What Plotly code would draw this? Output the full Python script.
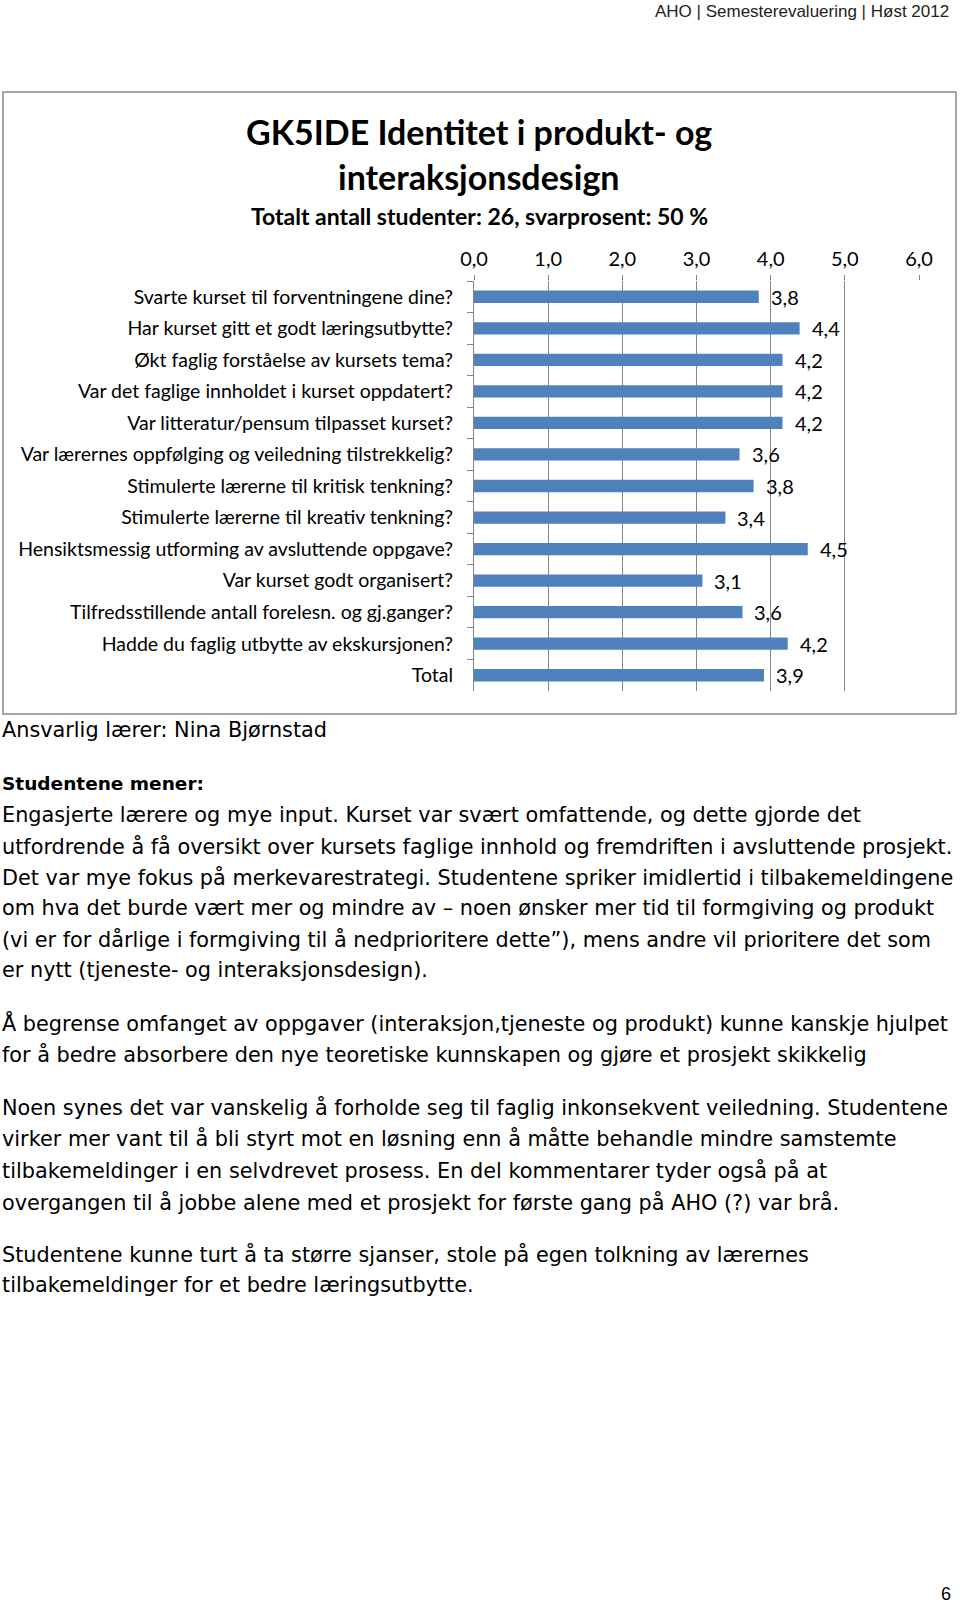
import plotly.graph_objects as go

W, H = 960, 1605

categories = [
    "Svarte kurset til forventningene dine?",
    "Har kurset gitt et godt læringsutbytte?",
    "Økt faglig forståelse av kursets tema?",
    "Var det faglige innholdet i kurset oppdatert?",
    "Var litteratur/pensum tilpasset kurset?",
    "Var lærernes oppfølging og veiledning tilstrekkelig?",
    "Stimulerte lærerne til kritisk tenkning?",
    "Stimulerte lærerne til kreativ tenkning?",
    "Hensiktsmessig utforming av avsluttende oppgave?",
    "Var kurset godt organisert?",
    "Tilfredsstillende antall forelesn. og gj.ganger?",
    "Hadde du faglig utbytte av ekskursjonen?",
    "Total",
]
values = [3.84, 4.39, 4.16, 4.16, 4.16, 3.58, 3.77, 3.39, 4.50, 3.08, 3.62, 4.23, 3.91]
x_ticks = [0, 1, 2, 3, 4, 5, 6]

header_text = "AHO | Semesterevaluering | Høst 2012"
title_lines = ["GK5IDE Identitet i produkt- og", "interaksjonsdesign"]
subtitle = "Totalt antall studenter: 26, svarprosent: 50 %"
teacher = "Ansvarlig lærer: Nina Bjørnstad"
heading = "Studentene mener:"
paragraphs = [
    [
        "Engasjerte lærere og mye input. Kurset var svært omfattende, og dette gjorde det",
        "utfordrende å få oversikt over kursets faglige innhold og fremdriften i avsluttende prosjekt.",
        "Det var mye fokus på merkevarestrategi. Studentene spriker imidlertid i tilbakemeldingene",
        "om hva det burde vært mer og mindre av – noen ønsker mer tid til formgiving og produkt",
        "(vi er for dårlige i formgiving til å nedprioritere dette”), mens andre vil prioritere det som",
        "er nytt (tjeneste- og interaksjonsdesign).",
    ],
    [
        "Å begrense omfanget av oppgaver (interaksjon,tjeneste og produkt) kunne kanskje hjulpet",
        "for å bedre absorbere den nye teoretiske kunnskapen og gjøre et prosjekt skikkelig",
    ],
    [
        "Noen synes det var vanskelig å forholde seg til faglig inkonsekvent veiledning. Studentene",
        "virker mer vant til å bli styrt mot en løsning enn å måtte behandle mindre samstemte",
        "tilbakemeldinger i en selvdrevet prosess. En del kommentarer tyder også på at",
        "overgangen til å jobbe alene med et prosjekt for første gang på AHO (?) var brå.",
    ],
    [
        "Studentene kunne turt å ta større sjanser, stole på egen tolkning av lærernes",
        "tilbakemeldinger for et bedre læringsutbytte.",
    ],
]
page_number = "6"

def px(x):
    return x / W

def py(y):
    return 1 - y / H

FONT = "Lato, 'Open Sans', sans-serif"
BODY_FONT = "'DejaVu Sans', 'Noto Sans', sans-serif"

fig = go.Figure()
fig.add_trace(go.Bar(
    x=values, y=categories, orientation="h",
    marker=dict(color="#4f81bd", line=dict(width=0)),
    hoverinfo="skip",
))

annotations = []
for v, c in zip(values, categories):
    annotations.append(dict(
        x=v, y=c, xref="x", yref="y", text=f"{v:.1f}".replace(".", ","),
        showarrow=False, xanchor="left", yanchor="middle", xshift=10,
        font=dict(family=FONT, size=20, color="#000000"),
    ))

annotations.append(dict(x=px(951), y=py(11), xref="paper", yref="paper", text=header_text,
                        showarrow=False, xanchor="right", yanchor="middle",
                        font=dict(family="'Liberation Sans Narrow', 'Liberation Sans', Arial", size=17, color="#222222")))
for t, yy in zip(title_lines, [132, 177]):
    annotations.append(dict(x=px(479), y=py(yy), xref="paper", yref="paper", text=f"<b>{t}</b>",
                            showarrow=False, xanchor="center", yanchor="middle",
                            font=dict(family=FONT, size=34, color="#000000")))
annotations.append(dict(x=px(479), y=py(216), xref="paper", yref="paper", text=f"<b>{subtitle}</b>",
                        showarrow=False, xanchor="center", yanchor="middle",
                        font=dict(family=FONT, size=23, color="#000000")))

annotations.append(dict(x=0, y=py(730), xref="paper", yref="paper", text=teacher,
                        showarrow=False, xanchor="left", yanchor="middle",
                        font=dict(family=BODY_FONT, size=20.8, color="#000000")))
annotations.append(dict(x=0, y=py(783), xref="paper", yref="paper", text=heading,
                        showarrow=False, xanchor="left", yanchor="middle",
                        font=dict(family=BODY_FONT, size=18.5, color="#000000", weight=600)))

line_ys = [
    [815, 846, 877, 908, 940, 970],
    [1023, 1054],
    [1107, 1138, 1170, 1202],
    [1254, 1285],
]
for para, ys in zip(paragraphs, line_ys):
    for t, yy in zip(para, ys):
        annotations.append(dict(x=0, y=py(yy), xref="paper", yref="paper", text=t,
                                showarrow=False, xanchor="left", yanchor="middle",
                                font=dict(family=BODY_FONT, size=20.8, color="#000000")))

annotations.append(dict(x=px(946), y=py(1594), xref="paper", yref="paper", text=page_number,
                        showarrow=False, xanchor="center", yanchor="middle",
                        font=dict(family="'Liberation Sans', Arial", size=18, color="#000000")))

shapes = [dict(type="rect", xref="paper", yref="paper",
               x0=px(3), x1=px(956), y0=py(92), y1=py(714),
               line=dict(color="#8a8a8a", width=1.5), fillcolor="rgba(0,0,0,0)", layer="below")]

fig.update_layout(
    width=W, height=H, autosize=False,
    margin=dict(l=0, r=0, t=0, b=0, pad=0, autoexpand=False),
    paper_bgcolor="#ffffff", plot_bgcolor="#ffffff",
    separators=", ",
    showlegend=False,
    bargap=0.61,
    annotations=annotations,
    shapes=shapes,
    xaxis=dict(
        domain=[px(474), px(919)], range=[0, 6], side="top",
        tickvals=x_ticks, tickformat=".1f", automargin=False,
        showgrid=True, gridcolor="#868686", gridwidth=1,
        zeroline=False, showline=False,
        ticks="outside", ticklen=5, tickcolor="#868686",
        ticklabelstandoff=1,
        tickfont=dict(family=FONT, size=20, color="#000000"),
        fixedrange=True,
    ),
    yaxis=dict(
        domain=[py(691), py(281)], autorange="reversed", automargin=False,
        showgrid=False, zeroline=False,
        showline=True, linecolor="#868686", linewidth=1,
        ticks="outside", tickson="boundaries", ticklen=6, tickcolor="#868686",
        ticklabelstandoff=16,
        tickfont=dict(family=FONT, size=19.5, color="#000000"),
        fixedrange=True,
    ),
)

post = "document.body.style.margin='0';document.body.style.overflow='hidden';"
fig.write_html("out.html", post_script=post, config={"displayModeBar": False, "responsive": False})
